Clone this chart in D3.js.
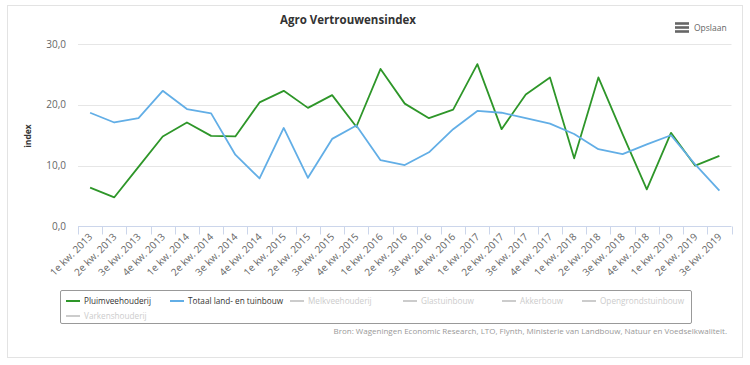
<!DOCTYPE html>
<html><head><meta charset="utf-8">
<script src="https://cdn.jsdelivr.net/npm/d3@7"></script>
<style>
html,body{margin:0;padding:0;background:#fff;}
svg{display:block;font-family:"Open Sans",sans-serif;}
</style></head><body>
<svg id="c" width="750" height="365"></svg>
<script>
const categories = ["1e kw. 2013","2e kw. 2013","3e kw. 2013","4e kw. 2013","1e kw. 2014","2e kw. 2014","3e kw. 2014","4e kw. 2014","1e kw. 2015","2e kw. 2015","3e kw. 2015","4e kw. 2015","1e kw. 2016","2e kw. 2016","3e kw. 2016","4e kw. 2016","1e kw. 2017","2e kw. 2017","3e kw. 2017","4e kw. 2017","1e kw. 2018","2e kw. 2018","3e kw. 2018","4e kw. 2018","1e kw. 2019","2e kw. 2019","3e kw. 2019"];
const pluimvee = [6.4,4.8,9.8,14.8,17.1,14.9,14.8,20.4,22.3,19.5,21.6,16.4,25.9,20.2,17.8,19.2,26.7,16.0,21.7,24.5,11.2,24.5,15.2,6.1,15.4,10.0,11.6];
const totaal = [18.7,17.1,17.8,22.3,19.3,18.6,11.8,7.9,16.2,8.0,14.4,16.6,10.9,10.1,12.2,16.0,19.0,18.7,17.8,16.9,15.2,12.7,11.9,13.5,15.0,10.2,5.9];
const yTicks = [0,10,20,30];
const legendItems = [
  {name:"Pluimveehouderij", color:"#2e9629", active:true},
  {name:"Totaal land- en tuinbouw", color:"#62aee6", active:true},
  {name:"Melkveehouderij", color:"#cccccc", active:false},
  {name:"Glastuinbouw", color:"#cccccc", active:false},
  {name:"Akkerbouw", color:"#cccccc", active:false},
  {name:"Opengrondstuinbouw", color:"#cccccc", active:false},
  {name:"Varkenshouderij", color:"#cccccc", active:false}
];
const series = [{values:pluimvee, color:"#2e9629"},{values:totaal, color:"#62aee6"}];

const svg = d3.select("#c");
svg.append("rect").attr("x",7.5).attr("y",5.5).attr("width",735).attr("height",352)
  .attr("fill","#fff").attr("stroke","#e3e3e3").attr("stroke-width",1);

const L=78, R=731.5, T=44, B=226.5;
const x = d3.scaleBand().domain(categories).range([L,R]);
const y = d3.scaleLinear().domain([0,30]).range([B,T]);

svg.append("text").attr("x",348).attr("y",24).attr("text-anchor","middle")
  .attr("font-size",11.5).attr("font-weight","bold").attr("fill","#333").text("Agro Vertrouwensindex");

const bx=675;
[23.5,27.5,31.5].forEach(yy=>svg.append("rect").attr("x",bx).attr("y",yy-1.3).attr("width",14).attr("height",2.6).attr("fill","#666"));
svg.append("text").attr("x",694).attr("y",31).attr("font-size",8.5).attr("fill","#666").text("Opslaan");

svg.append("g").selectAll("line").data(yTicks.filter(d=>d>0)).join("line")
  .attr("x1",L).attr("x2",R).attr("y1",d=>Math.round(y(d))+0.5).attr("y2",d=>Math.round(y(d))+0.5)
  .attr("stroke","#e6e6e6").attr("stroke-width",1);

svg.append("g").selectAll("text").data(yTicks).join("text")
  .attr("x",66).attr("y",d=>y(d)+3.5).attr("text-anchor","end")
  .attr("font-size",10).attr("fill","#666").text(d=>d.toFixed(1).replace(".",","));

svg.append("text").attr("transform","translate(31,136) rotate(-90)").attr("text-anchor","middle")
  .attr("font-size",8.5).attr("font-weight","bold").attr("fill","#333").text("index");

const xa = svg.append("g");
xa.append("line").attr("x1",L).attr("x2",R).attr("y1",B).attr("y2",B).attr("stroke","#ccd6eb");
const bounds = categories.map(c=>x(c)).concat([R]);
xa.selectAll("line.t").data(bounds).join("line").attr("class","t")
  .attr("x1",d=>Math.round(d)+0.5).attr("x2",d=>Math.round(d)+0.5).attr("y1",B).attr("y2",B+8)
  .attr("stroke","#ccd6eb");
xa.selectAll("text").data(categories).join("text")
  .attr("transform",d=>`translate(${x(d)+x.bandwidth()/2+3},${B+11}) rotate(-45)`)
  .attr("text-anchor","end").attr("font-size",10).attr("fill","#666").text(d=>d);

const line = d3.line().x((d,i)=>x(categories[i])+x.bandwidth()/2).y(d=>y(d));
series.forEach(s=>{
  svg.append("path").datum(s.values).attr("d",line).attr("fill","none")
    .attr("stroke",s.color).attr("stroke-width",1.8).attr("stroke-linejoin","round");
});

svg.append("rect").attr("x",60.5).attr("y",290.5).attr("width",631).attr("height",33).attr("rx",1.5)
  .attr("fill","none").attr("stroke","#999").attr("stroke-width",1);
const legPos = [[66,301],[170,301],[290,301],[403,301],[502,301],[582,301],[66,316]];
legendItems.forEach((it,i)=>{
  const [lx,ly]=legPos[i];
  svg.append("line").attr("x1",lx).attr("x2",lx+14).attr("y1",ly).attr("y2",ly)
    .attr("stroke",it.color).attr("stroke-width",2);
  svg.append("text").attr("x",lx+18).attr("y",ly+3.2).attr("font-size",8.2)
    .attr("fill",it.active?"#333":"#cccccc").text(it.name);
});

svg.append("text").attr("x",727).attr("y",334).attr("text-anchor","end").attr("font-size",8)
  .attr("fill","#999").text("Bron: Wageningen Economic Research, LTO, Flynth, Ministerie van Landbouw, Natuur en Voedselkwaliteit.");
</script>
</body></html>
